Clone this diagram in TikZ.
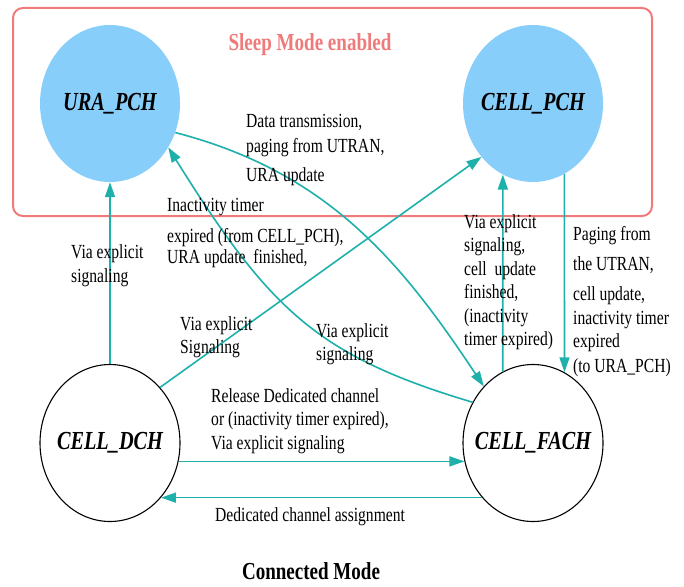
\documentclass[tikz,border=0pt]{standalone}
\usepackage{fontspec}
\setmainfont[FakeStretch=0.78]{Liberation Serif}
\usetikzlibrary{shapes.geometric,arrows.meta}
\definecolor{sleepred}{RGB}{240,122,122}
\definecolor{linkteal}{RGB}{30,176,170}
\definecolor{sleepblue}{RGB}{135,206,250}
\newcommand{\slbl}[1]{\makebox[0pt]{\fontsize{26}{30}\selectfont\bfseries\itshape #1}}

\begin{document}
\begin{tikzpicture}[x=1pt,y=-1pt,
  state/.style={ellipse,minimum width=140pt,minimum height=157pt,inner sep=0pt},
  sleep/.style={state,fill=sleepblue},
  awake/.style={state,draw=black,line width=1.1pt,fill=white},
  arr/.style={draw=linkteal,line width=1.6pt,-{Triangle[length=15pt,width=10pt]}},
  lbl/.style={inner sep=0pt,align=left,anchor=north west,font=\fontsize{20}{23.5}\selectfont},
  title/.style={inner sep=0pt,anchor=base,font=\fontsize{24.4}{28}\selectfont\bfseries}]

\useasboundingbox (0,0) rectangle (684,586);
\fill[white] (0,0) rectangle (684,586);

\draw[sleepred,line width=2pt,rounded corners=10pt] (13,8) rectangle (652,216);
\node[title,text=sleepred] (sleeptitle) at (310,50) {Sleep Mode enabled};
\node[title] (conntitle) at (311,579) {Connected Mode};

\node[sleep] (ura) at (110,103.5) {\slbl{URA\_PCH}};
\node[sleep] (cpch) at (533,103.5) {\slbl{CELL\_PCH}};
\node[awake] (dch) at (110,443) {\slbl{CELL\_DCH}};
\node[awake] (fach) at (533,443) {\slbl{CELL\_FACH}};

\draw[arr] (dch.north) -- (ura.south);
\draw[arr] (dch.48) -- (cpch.-134);
\draw[arr] (ura.-24) .. controls (327,172) and (400,260) .. (fach.131);
\draw[arr] (fach.146) .. controls (317,356) and (269,309) .. (ura.-37);
\draw[arr] (fach.113) -- (cpch.-113);
\draw[arr] (cpch.-66) -- (fach.66);
\draw[arr] (dch.-15) -- (fach.-165);
\draw[arr] (fach.-133) -- (dch.-47);

\node[lbl] (datatx) at (246,114.3) {Data transmission,\\[1.2pt] paging from UTRAN,\\[5.5pt] URA update};
\node[lbl] (inact) at (167,198) {Inactivity timer\\[7.5pt] expired (from CELL\_PCH),\\[-2pt] URA update\ \ finished,};
\node[lbl] (viaura) at (71,244.6) {Via explicit\\ signaling};
\node[lbl] (viacpch) at (180,316.3) {Via explicit\\ Signaling};
\node[lbl] (viaback) at (316,323) {Via explicit\\ signaling};
\node[lbl] (viaup) at (464,214.3) {Via explicit\\ signaling,\\ cell\ \ update\\ finished,\\ (inactivity\\ timer expired)};
\node[lbl] (paging) at (573,226.3) {Paging from\\[6.5pt] the UTRAN,\\[6.5pt] cell update,\\ inactivity timer\\ expired\\[1.5pt] (to URA\_PCH)};
\node[lbl] (release) at (211,388.3) {Release Dedicated channel\\ or (inactivity timer expired),\\ Via explicit signaling};
\node[lbl,anchor=base west] (assign) at (215,521) {Dedicated channel assignment};

\end{tikzpicture}
\end{document}
